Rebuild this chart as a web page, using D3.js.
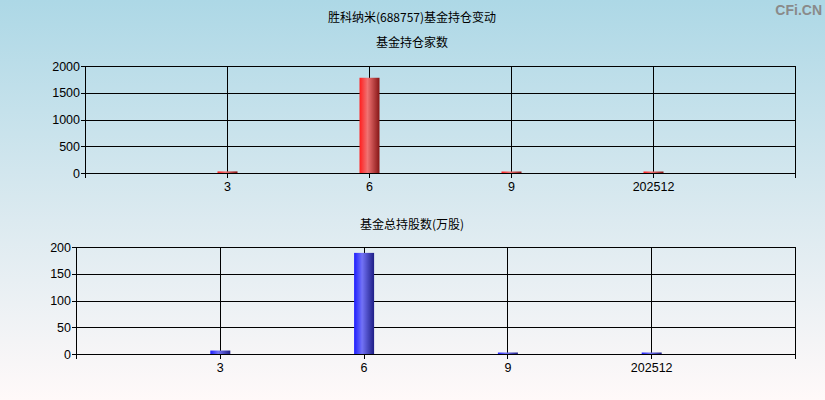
<!DOCTYPE html>
<html><head><meta charset="utf-8">
<script src="https://cdn.jsdelivr.net/npm/d3@7/dist/d3.min.js"></script>
<style>body{margin:0;padding:0;overflow:hidden}svg{display:block}</style>
</head><body>
<svg id="c" width="825" height="400"></svg>
<script>
const categories = ["3", "6", "9", "202512"];
const fundCounts = [30, 1780, 10, 10];
const fundShares = [6.5, 189, 1, 1];
const countTicks = [0, 500, 1000, 1500, 2000];
const shareTicks = [0, 50, 100, 150, 200];
const title = "胜科纳米(688757)基金持仓变动";
const sub1 = "基金持仓家数";
const sub2 = "基金总持股数(万股)";

const svg = d3.select("#c");
const defs = svg.append("defs");
const bg = defs.append("linearGradient").attr("id","bg").attr("x1",0).attr("y1",0).attr("x2",0).attr("y2",1);
bg.append("stop").attr("offset","0%").attr("stop-color","#add8e6");
bg.append("stop").attr("offset","55%").attr("stop-color","#dceaf0");
bg.append("stop").attr("offset","100%").attr("stop-color","#fff9f9");
svg.append("rect").attr("width",825).attr("height",400).attr("fill","url(#bg)");

function barGrad(id, c0, c1, c2) {
  const g = defs.append("linearGradient").attr("id",id).attr("x1",0).attr("y1",0).attr("x2",1).attr("y2",0);
  g.append("stop").attr("offset","0%").attr("stop-color",c0);
  g.append("stop").attr("offset","40%").attr("stop-color",c1);
  g.append("stop").attr("offset","100%").attr("stop-color",c2);
}
barGrad("red","#ff1e1e","#f07272","#861616");
barGrad("blue","#1e1eff","#7272f6","#1e1e86");

const cjk = "'Noto Sans CJK SC','Noto Sans',sans-serif";
const lat = "'Liberation Sans',Arial,sans-serif";

svg.append("text").attr("x",412).attr("y",22).attr("text-anchor","middle")
  .attr("font-family",cjk).attr("font-size",12).attr("fill","#000").text(title);
svg.append("text").attr("x",822).attr("y",15).attr("text-anchor","end")
  .attr("font-family","'Liberation Sans',Arial,sans-serif").attr("font-size",14).attr("font-weight","bold").attr("fill","#8a8a8a").text("CFi.CN");

function panel(opts) {
  const {left,right,top,bottom,values,ticks,fill,subtitle,subY} = opts;
  const g = svg.append("g");
  g.append("text").attr("x",412).attr("y",subY).attr("text-anchor","middle")
    .attr("font-family",cjk).attr("font-size",12).attr("fill","#000").text(subtitle);
  const x = d3.scaleLinear().domain([0, categories.length + 1]).range([left, right]);
  const y = d3.scaleLinear().domain([0, d3.max(ticks)]).range([bottom, top]);
  g.selectAll(".hg").data(ticks).join("line")
    .attr("x1",left-4).attr("x2",right).attr("y1",d=>Math.round(y(d))+0.5).attr("y2",d=>Math.round(y(d))+0.5)
    .attr("stroke","#000").attr("stroke-width",1);
  g.selectAll(".vg").data(categories).join("line")
    .attr("x1",(d,i)=>Math.round(x(i+1))+0.5).attr("x2",(d,i)=>Math.round(x(i+1))+0.5)
    .attr("y1",top).attr("y2",bottom+5).attr("stroke","#000");
  [0, categories.length+1].forEach(v=>{
    g.append("line").attr("x1",Math.round(x(v))+0.5).attr("x2",Math.round(x(v))+0.5)
      .attr("y1",Math.round(y(d3.max(ticks)))).attr("y2",bottom+5).attr("stroke","#000");
  });
  g.selectAll(".yl").data(ticks).join("text")
    .attr("x",left-5).attr("y",d=>y(d)+4.5).attr("text-anchor","end")
    .attr("font-family",lat).attr("font-size",12.5).attr("fill","#000").text(d=>d);
  g.selectAll(".xl").data(categories).join("text")
    .attr("x",(d,i)=>x(i+1)+0.5).attr("y",bottom+18).attr("text-anchor","middle")
    .attr("font-family",lat).attr("font-size",12.5).attr("fill","#000").text(d=>d);
  const bw = 20;
  g.selectAll(".bar").data(values).join("rect")
    .attr("x",(d,i)=>x(i+1)-bw/2+0.5).attr("width",bw)
    .attr("y",d=>Math.min(y(d), bottom-1.5)).attr("height",d=>Math.max(1.5,bottom-y(d)))
    .attr("fill",fill);
}

panel({left:85,right:795,top:66,bottom:173,values:fundCounts,ticks:countTicks,fill:"url(#red)",subtitle:sub1,subY:47});
panel({left:76,right:795,top:247,bottom:354,values:fundShares,ticks:shareTicks,fill:"url(#blue)",subtitle:sub2,subY:229});
</script>
</body></html>
